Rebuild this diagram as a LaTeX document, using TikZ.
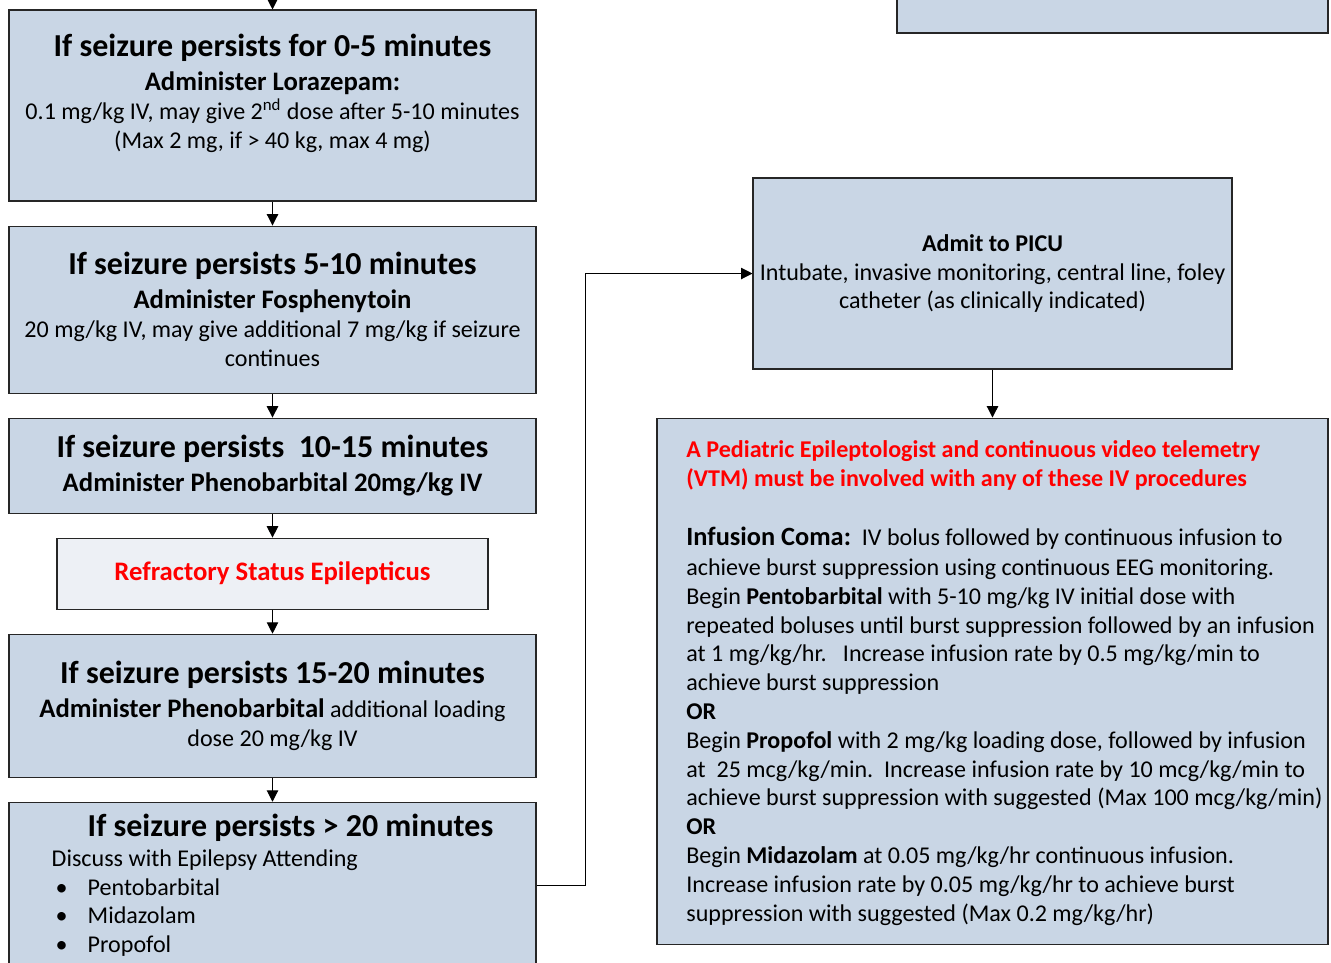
\documentclass[tikz,border=0pt]{standalone}
\usepackage{fontspec}
\setmainfont{Carlito}
\usetikzlibrary{positioning,arrows.meta}

\definecolor{boxblue}{HTML}{C9D6E5}
\definecolor{boxpale}{HTML}{EDF0F5}
\definecolor{alertred}{HTML}{FF0000}

\newcommand\headfont{\fontsize{18.2}{21}\selectfont\bfseries}
\newcommand\drugfont{\fontsize{15.2}{18}\selectfont\bfseries}
\newcommand\bul{\makebox[0.72cm][l]{\hspace{0.08cm}\textbullet}}

\tikzset{
  stagebox/.style={draw=black!85, fill=boxblue, line width=0.6pt, minimum width=10.54cm, align=center, inner sep=0pt},
  flow/.style={-{Triangle[length=6.5pt,width=6.5pt]}, line width=0.6pt},
}

\begin{document}
\begin{tikzpicture}[font=\fontsize{13.7}{16.4}\selectfont, node distance=0.48cm]
\useasboundingbox (0,0) rectangle (26.62,-19.24);
\clip (0,0) rectangle (26.62,-19.24);

% left column
\node[stagebox, minimum height=3.82cm] (dose1) at (5.45,-2.11) {{\headfont If seizure persists for 0-5 minutes}\\[3pt] {\drugfont Administer Lorazepam:}\\ 0.1 mg/kg IV, may give 2\textsuperscript{nd} dose after 5-10 minutes\\ (Max 2 mg, if > 40 kg, max 4 mg)\\ \mbox{}};
\node[stagebox, minimum height=3.34cm, below=of dose1] (dose2) {{\headfont If seizure persists 5-10 minutes}\\[3pt] {\drugfont Administer Fosphenytoin}\\ 20 mg/kg IV, may give additional 7 mg/kg if seizure\\ continues};
\node[stagebox, minimum height=1.90cm, below=of dose2] (dose3) {{\headfont If seizure persists~~10-15 minutes}\\[3pt] {\drugfont Administer Phenobarbital 20mg/kg IV}};
\node[stagebox, fill=boxpale, minimum width=8.62cm, minimum height=1.42cm, below=of dose3] (refract) {\drugfont\color{alertred}Refractory Status Epilepticus};
\node[stagebox, minimum height=2.86cm, below=of refract] (dose4) {{\headfont If seizure persists 15-20 minutes}\\[3pt] {\drugfont Administer Phenobarbital} additional loading\\ dose 20 mg/kg IV};
\node[stagebox, minimum height=3.32cm, below=of dose4, align=left] (dose5) {\hspace{0.72cm}{\headfont If seizure persists > 20 minutes}\\[0.6pt] Discuss with Epilepsy Attending\\ \bul Pentobarbital\\ \bul Midazolam\\ \bul Propofol};

% right column
\node[stagebox, minimum width=8.62cm, minimum height=2.4cm] (prev) at (22.25,0.54) {};
\node[stagebox, minimum width=9.58cm, minimum height=3.82cm] (picu) at (19.85,-5.47) {\textbf{Admit to PICU}\\ Intubate, invasive monitoring, central line, foley\\ catheter (as clinically indicated)};
\node[stagebox, minimum width=13.42cm, minimum height=10.52cm, below=0.96cm of picu] (coma) {};
\node[anchor=north west, align=left, inner sep=0pt] (comatext) at (13.72,-8.80) {{\bfseries\color{alertred}A Pediatric Epileptologist and continuous video telemetry}\\
{\bfseries\color{alertred}(VTM) must be involved with any of these IV procedures}\\
\mbox{}\\[1pt]
{\fontsize{15}{16.4}\selectfont\bfseries Infusion Coma:}~~IV bolus followed by continuous infusion to\\[0.6pt]
achieve burst suppression using continuous EEG monitoring.\\
Begin \textbf{Pentobarbital} with 5-10 mg/kg IV initial dose with\\
repeated boluses until burst suppression followed by an infusion\\
at 1 mg/kg/hr.~~~Increase infusion rate by 0.5 mg/kg/min to\\
achieve burst suppression\\
\textbf{OR}\\
Begin \textbf{Propofol} with 2 mg/kg loading dose, followed by infusion\\
at~~25 mcg/kg/min.~~Increase infusion rate by 10 mcg/kg/min to\\
achieve burst suppression with suggested (Max 100 mcg/kg/min)\\
\textbf{OR}\\
Begin \textbf{Midazolam} at 0.05 mg/kg/hr continuous infusion.\\
Increase infusion rate by 0.05 mg/kg/hr to achieve burst\\
suppression with suggested (Max 0.2 mg/kg/hr)};

% connectors
\coordinate (entry) at (5.45,0.4);
\draw[flow] (entry) -- (dose1);
\draw[flow] (dose1) -- (dose2);
\draw[flow] (dose2) -- (dose3);
\draw[flow] (dose3) -- (refract);
\draw[flow] (refract) -- (dose4);
\draw[flow] (dose4) -- (dose5);
\draw[flow] (dose5.east) -- ++(0.98,0) |- (picu.west);
\draw[flow] (picu) -- (coma);
\end{tikzpicture}
\end{document}
